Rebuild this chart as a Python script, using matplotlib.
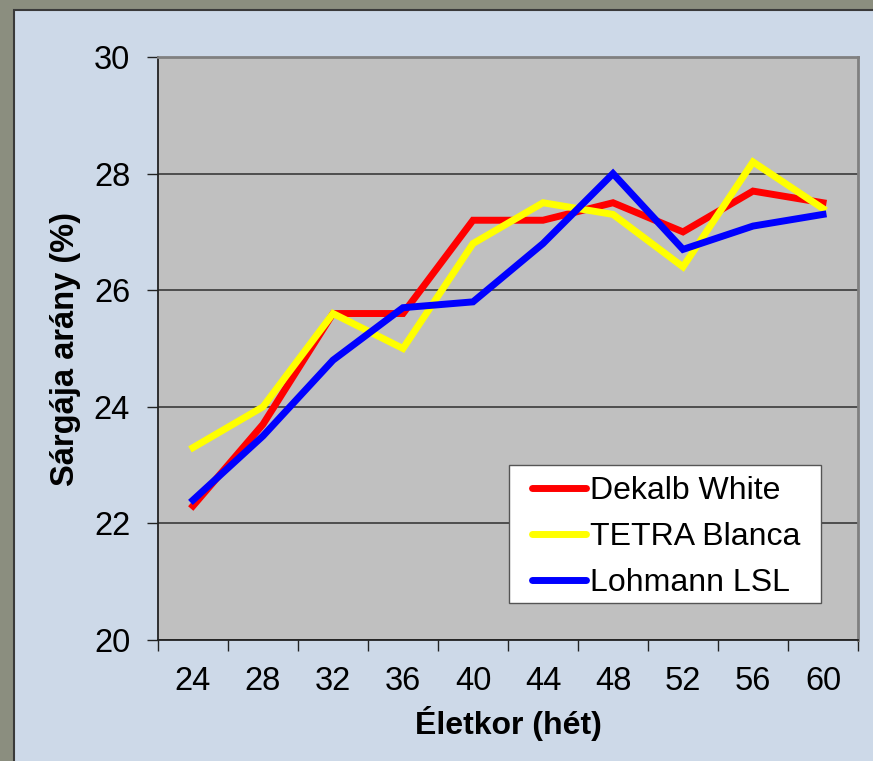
import matplotlib
matplotlib.use("Agg")
import matplotlib.pyplot as plt
from matplotlib.patches import Rectangle
import numpy as np

plt.rcParams['font.family'] = ['Liberation Sans', 'DejaVu Sans']

weeks = ["24", "28", "32", "36", "40", "44", "48", "52", "56", "60"]
dekalb = [22.3, 23.7, 25.6, 25.6, 27.2, 27.2, 27.5, 27.0, 27.7, 27.5]
tetra = [23.3, 24.0, 25.6, 25.0, 26.8, 27.5, 27.3, 26.4, 28.2, 27.4]
lohmann = [22.4, 23.5, 24.8, 25.7, 25.8, 26.8, 28.0, 26.7, 27.1, 27.3]
series_names = ["Dekalb White", "TETRA Blanca", "Lohmann LSL"]
yticks = [20, 22, 24, 26, 28, 30]

W, H = 873, 761
fig = plt.figure(figsize=(W / 100, H / 100), dpi=100, facecolor="#8b8e7f")

# background axes with inner light-blue panel
bg = fig.add_axes([0, 0, 1, 1], zorder=-10)
bg.set_xlim(0, W)
bg.set_ylim(H, 0)
bg.axis("off")
bg.add_patch(Rectangle((14, 10), W, H, facecolor="#cdd9e8", edgecolor="#3a3a3a", linewidth=1.5))

ax = fig.add_axes([158 / W, 1 - 640 / H, 700 / W, 583 / H], zorder=1)
ax.set_facecolor("#c0c0c0")

x = np.arange(len(weeks))
ax.plot(x, dekalb, color="#ff0000", lw=5, solid_joinstyle="miter", label=series_names[0], zorder=3)
ax.plot(x, tetra, color="#ffff00", lw=5, solid_joinstyle="miter", label=series_names[1], zorder=4)
ax.plot(x, lohmann, color="#0000ff", lw=5, solid_joinstyle="miter", label=series_names[2], zorder=5)

ax.set_xlim(-0.5, len(weeks) - 0.5)
ax.set_ylim(20, 30)
ax.set_yticks(yticks)
ax.set_yticklabels([str(v) for v in yticks], fontsize=23.5)
ax.set_xticks(np.arange(len(weeks) + 1) - 0.5)
ax.set_xticklabels([])
ax.set_xticks(x, minor=True)
ax.set_xticklabels(weeks, minor=True, fontsize=23.5)
ax.tick_params(axis="x", which="major", length=8, width=1, color="#222222", direction="out")
ax.tick_params(axis="x", which="minor", length=0, pad=19)
ax.tick_params(axis="y", length=8, width=1, color="#222222", direction="out", pad=12)

ax.yaxis.grid(True, color="#444444", linewidth=1.3)
ax.set_axisbelow(True)
for s in ["left", "bottom"]:
    ax.spines[s].set_color("#222222")
    ax.spines[s].set_linewidth(1.3)
for s in ["top", "right"]:
    ax.spines[s].set_color("#808080")
    ax.spines[s].set_linewidth(2)

ax.set_ylabel("Sárgája arány (%)", fontsize=23.5, fontweight="bold", labelpad=9)
ax.set_xlabel("Életkor (hét)", fontsize=23, fontweight="bold", labelpad=6)

# legend box (frame drawn separately to match padding)
ax.add_patch(Rectangle((509 / W, 1 - 603 / H), 312 / W, 138 / H, transform=fig.transFigure,
                       facecolor="white", edgecolor="#555555", linewidth=1, zorder=6))
leg = ax.legend(loc="upper left", bbox_to_anchor=(532 / W, 1 - 476 / H), bbox_transform=fig.transFigure,
                fontsize=23, frameon=False,
                handlelength=1.7, handletextpad=0.12, labelspacing=0.5, borderpad=0,
                borderaxespad=0)
leg.set_zorder(7)
for line in leg.get_lines():
    line.set_linewidth(5)
    line.set_solid_capstyle("round")

fig.savefig("out.png", dpi=100, facecolor=fig.get_facecolor())
